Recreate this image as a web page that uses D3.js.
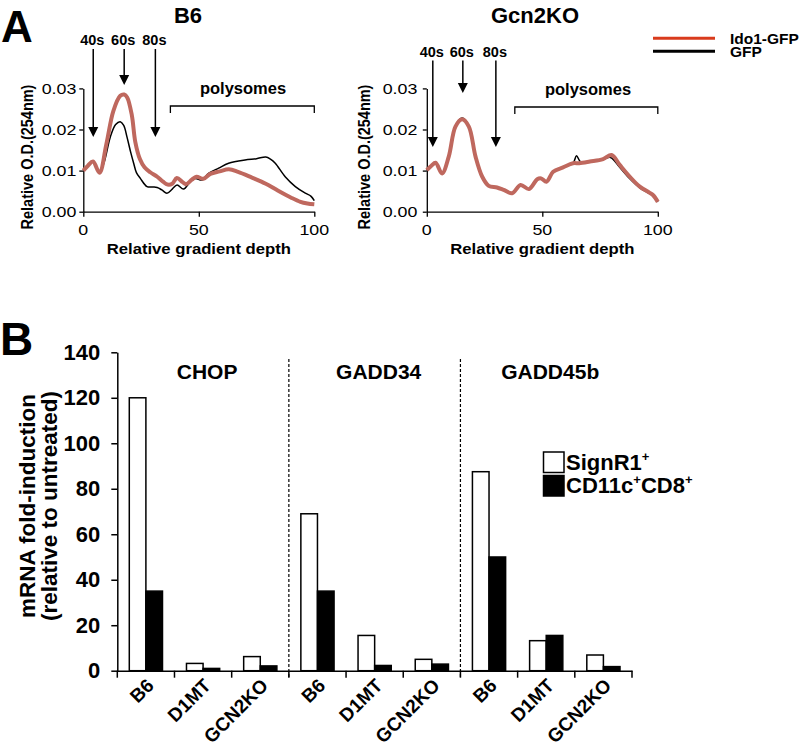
<!DOCTYPE html>
<html><head><meta charset="utf-8">
<script src="https://cdn.jsdelivr.net/npm/d3@7"></script>
<style>
html,body{margin:0;padding:0;background:#fff;}
svg text{font-family:"Liberation Sans",Arial,sans-serif;fill:#000;}
</style></head>
<body><svg id="c" width="812" height="752"></svg>
<script>
// ---------- Panel A data ----------
const b6GfpDepth = [0,2,4.2,7,9,11.7,14,16,17.5,18.9,20.5,21.8,23,24.7,27.6,30,32,34,36.2,38.5,40.6,43.4,46.3,48.5,51.4,54.2,58.6,62.9,70,75,79,81,83.1,87.4,91.8,96.1,98.5,100];
const b6GfpValue = [0.0100,0.0112,0.0124,0.0095,0.0120,0.0182,0.0212,0.0219,0.0210,0.0182,0.0145,0.0118,0.0095,0.0081,0.0061,0.0060,0.0059,0.0053,0.0045,0.0055,0.0065,0.0055,0.0073,0.0081,0.0077,0.0093,0.0106,0.0118,0.0126,0.0129,0.0133,0.0128,0.0118,0.0085,0.0061,0.0045,0.0038,0.0027];
const b6IdoDepth = [0,2,4.2,7,10,13,16,17.7,19,21,22.5,24.5,26.5,29,32,34.5,36.5,38.5,40.5,43,44.5,47,49,52,55,59,63,67,73,79,84,90,94,97,100];
const b6IdoValue = [0.0100,0.0112,0.0122,0.0095,0.0165,0.0245,0.0282,0.0285,0.0278,0.0235,0.0170,0.0128,0.0108,0.0096,0.0085,0.0073,0.0066,0.0068,0.0082,0.0072,0.0067,0.0078,0.0085,0.0080,0.0092,0.0098,0.0103,0.0097,0.0083,0.0068,0.0052,0.0034,0.0024,0.0020,0.0018];
const koGfpDepth = [0,2,3.8,6.6,9.5,12.4,15.3,18.2,21.1,24,26.8,30.4,33.3,36.9,40.6,44.2,47.8,49.5,51.8,54.7,59,63.3,64.8,66.5,70.6,76.3,79.5,83.5,87.9,92.2,96.5,98,100];
const koGfpValue = [0.0101,0.0112,0.0119,0.0093,0.0134,0.0209,0.0228,0.0209,0.0134,0.0085,0.0063,0.0059,0.0053,0.0045,0.0065,0.0055,0.0079,0.0081,0.0073,0.0097,0.0108,0.0118,0.0136,0.0122,0.0122,0.0127,0.0132,0.0108,0.0080,0.0058,0.0044,0.0039,0.0024];
const koIdoDepth = [0,2,3.8,6.6,9.5,12.4,15.3,18.2,21.1,24,26.8,30.4,33.3,36.9,40.6,44.2,47.8,49.5,51.8,54.7,59,63.3,66,70.6,76.3,80,83.5,87.9,92.2,96.5,98,100];
const koIdoValue = [0.0101,0.0112,0.0119,0.0093,0.0134,0.0207,0.0225,0.0207,0.0134,0.0085,0.0063,0.0059,0.0053,0.0045,0.0065,0.0055,0.0079,0.0081,0.0073,0.0097,0.0108,0.0118,0.0118,0.0122,0.0128,0.0138,0.0114,0.0085,0.0061,0.0046,0.0040,0.0024];
const odTicks = [0,0.01,0.02,0.03];
const depthTicks = [0,50,100];
const panelTitles = ["B6","Gcn2KO"];
const peakLabels = ["40s","60s","80s"];
const b6PeakDepth = [4.3,17.7,31.2];
const koPeakDepth = [2.6,15.6,29.9];
const legendA = ["Ido1-GFP","GFP"];

// ---------- Panel B data ----------
const genes = ["CHOP","GADD34","GADD45b"];
const mice = ["B6","D1MT","GCN2KO"];
const signR1 = [120,3.2,6.2, 69,15.5,5.0, 87.5,13.2,6.9];
const cd8 = [35,1.0,2.1, 35,2.3,2.9, 50,15.5,1.8];
const foldTicks = [0,20,40,60,80,100,120,140];

const svg = d3.select("#c");
const FONT = '"Liberation Sans",Arial,sans-serif';
const RED_CURVE = "#bf685e", RED_LEG = "#d93b1c";
const SX = 1.15; // horizontal stretch of the embedded profile plots' text

// ================= Panel A =================
svg.append("text").attr("x",1).attr("y",42).attr("font-size",44).attr("font-weight","bold").text("A");

function stretched(g, x, y, str, size, anchor, bold, rot){
  return g.append("text")
    .attr("transform",`translate(${x},${y}) scale(${SX},1)` + (rot ? ` rotate(${rot})` : ""))
    .attr("text-anchor",anchor).attr("font-size",size).attr("font-weight",bold?"bold":"normal").text(str);
}

function profile(cfg){
  const x = d3.scaleLinear().domain([0,100]).range([cfg.x0, cfg.x0+231]);
  const y = d3.scaleLinear().domain([0,0.03]).range([211.7, 88.4]);
  const g = svg.append("g");
  g.append("g").attr("transform",`translate(${cfg.x0},0)`)
    .call(d3.axisLeft(y).tickValues(odTicks).tickSize(4).tickSizeOuter(0).tickFormat(""));
  g.append("g").attr("transform",`translate(0,211.7)`)
    .call(d3.axisBottom(x).tickValues(depthTicks).tickSize(5).tickSizeOuter(0).tickFormat(""));
  g.selectAll(".domain,.tick line").attr("stroke","#000").attr("stroke-width",1.3);
  const fmt = d3.format(".2f");
  odTicks.forEach(t=>stretched(g, cfg.x0-cfg.tickOff, y(t)+5.5, fmt(t), 15.5, "end", false));
  depthTicks.forEach(t=>stretched(g, x(t), 235, String(t), 15.5, "middle", false));

  const line = d3.line().x(d=>x(d[0])).y(d=>y(d[1])).curve(d3.curveCatmullRom.alpha(0.5));
  g.append("path").datum(cfg.gD.map((d,i)=>[d,cfg.gV[i]])).attr("d",line)
    .attr("fill","none").attr("stroke","#000").attr("stroke-width",1.5);
  g.append("path").datum(cfg.rD.map((d,i)=>[d,cfg.rV[i]])).attr("d",line)
    .attr("fill","none").attr("stroke",RED_CURVE).attr("stroke-width",4).attr("stroke-linejoin","round");

  // title
  g.append("text").attr("x",cfg.titleX).attr("y",22.5).attr("text-anchor","middle")
    .attr("font-size",22).attr("font-weight","bold").text(cfg.title);
  // axis labels
  stretched(g, cfg.x0-cfg.ylabOff, 157, "Relative O.D.(254nm)", 14.5, "middle", true, -90);
  stretched(g, x(50), 254, "Relative gradient depth", 14.5, "middle", true);
  // peak arrows
  cfg.peaks.forEach((d,i)=>{
    const px = x(d);
    g.append("text").attr("x",px-1).attr("y",cfg.labY).attr("text-anchor","middle")
      .attr("font-size",14.5).attr("font-weight","bold").text(peakLabels[i]);
    const tip = cfg.tips[i];
    g.append("line").attr("x1",px).attr("x2",px).attr("y1",cfg.labY+4).attr("y2",tip-8)
      .attr("stroke","#000").attr("stroke-width",1.5);
    g.append("path").attr("d",`M${px-5},${tip-10}L${px+5},${tip-10}L${px},${tip}Z`).attr("fill","#000");
  });
  // polysome bracket
  const bx0 = x(cfg.polyStart), bx1 = x(100), by = cfg.polyY;
  g.append("path").attr("d",`M${bx0},${by+7}V${by}H${bx1}V${by+7}`).attr("fill","none")
    .attr("stroke","#000").attr("stroke-width",1.3);
  g.append("text").attr("x",cfg.polyLabX).attr("y",by-12).attr("text-anchor","middle")
    .attr("font-size",16.5).attr("font-weight","bold").text("polysomes");
}
profile({x0:83.3,title:panelTitles[0],titleX:188,gD:b6GfpDepth,gV:b6GfpValue,rD:b6IdoDepth,rV:b6IdoValue,
  peaks:b6PeakDepth,tips:[137,85,137],labY:45,polyStart:37.7,polyY:106,polyLabX:243,tickOff:7,ylabOff:50});
profile({x0:426.8,title:panelTitles[1],titleX:535,gD:koGfpDepth,gV:koGfpValue,rD:koIdoDepth,rV:koIdoValue,
  peaks:koPeakDepth,tips:[147,93,147],labY:56.5,polyStart:38.1,polyY:107,polyLabX:588,tickOff:9.5,ylabOff:57});

// legend A
[RED_LEG,"#000"].forEach((c,i)=>{
  const yy = 38.3 + i*13;
  svg.append("line").attr("x1",653).attr("x2",715).attr("y1",yy).attr("y2",yy).attr("stroke",c).attr("stroke-width",3);
  svg.append("text").attr("x",730).attr("y",yy+6).attr("font-size",15.5).attr("font-weight","bold").text(legendA[i]);
});

// ================= Panel B =================
svg.append("text").attr("x",0).attr("y",355).attr("font-size",46).attr("font-weight","bold").text("B");

const cats = [];
genes.forEach(g=>mice.forEach(m=>cats.push(g+"|"+m)));
const xB = d3.scaleBand().domain(cats).range([117.3,632]).paddingInner(0).paddingOuter(0);
const bw = xB.bandwidth();
const xSub = d3.scaleBand().domain(["s","c"]).range([bw/2-16.6, bw/2+16.6]);
const yB = d3.scaleLinear().domain([0,140]).range([670.7,352.3]);

const gB = svg.append("g");
// bars
const rows = cats.map((c,i)=>({c, s:signR1[i], k:cd8[i]}));
rows.forEach(r=>{
  gB.append("rect").attr("x",xB(r.c)+xSub("s")).attr("width",xSub.bandwidth()).attr("y",yB(r.s)).attr("height",yB(0)-yB(r.s))
    .attr("fill","#fff").attr("stroke","#000").attr("stroke-width",1.5);
  gB.append("rect").attr("x",xB(r.c)+xSub("c")).attr("width",xSub.bandwidth()).attr("y",yB(r.k)).attr("height",yB(0)-yB(r.k))
    .attr("fill","#000").attr("stroke","#000").attr("stroke-width",1.5);
});
// y axis
const yaB = gB.append("g").attr("transform","translate(117.3,0)")
  .call(d3.axisLeft(yB).tickValues(foldTicks).tickSize(6).tickSizeOuter(0));
yaB.selectAll("text").attr("font-size",22).attr("font-weight","bold").attr("font-family",FONT).attr("x",-17);
// x axis
const xaB = gB.append("g").attr("transform",`translate(0,${yB(0)})`)
  .call(d3.axisBottom(xB).tickSize(0).tickSizeOuter(0).tickFormat(d=>d.split("|")[1]));
xaB.selectAll("text").attr("font-size",19).attr("font-weight","bold").attr("font-family",FONT)
  .attr("text-anchor","end").attr("dy",0).attr("y",0)
  .attr("transform","translate(9,16) rotate(-45)");
gB.selectAll(".domain,.tick line").attr("stroke","#000").attr("stroke-width",1.5);
// boundary ticks
d3.range(cats.length+1).forEach(i=>{
  const bxp = 117.3 + i*xB.step();
  gB.append("line").attr("x1",bxp).attr("x2",bxp).attr("y1",yB(0)).attr("y2",yB(0)+7).attr("stroke","#000").attr("stroke-width",1.5);
});
// dashed separators
[3,6].forEach(i=>{
  const bxp = 117.3 + i*xB.step();
  gB.append("line").attr("x1",bxp).attr("x2",bxp).attr("y1",359).attr("y2",yB(0)+7)
    .attr("stroke","#000").attr("stroke-width",1.2).attr("stroke-dasharray","3,2");
});
// gene labels
genes.forEach((g,i)=>{
  const cx = 117.3 + (i*3+1.5)*xB.step() + 4;
  gB.append("text").attr("x",cx).attr("y",379).attr("text-anchor","middle")
    .attr("font-size",21).attr("font-weight","bold").text(g);
});
// y label
const yl = gB.append("text").attr("transform","translate(0,506) rotate(-90)").attr("text-anchor","middle")
  .attr("font-size",22.5).attr("font-weight","bold");
yl.append("tspan").attr("x",0).attr("y",35).text("mRNA fold-induction");
yl.append("tspan").attr("x",0).attr("y",57).text("(relative to untreated)");
// legend B
gB.append("rect").attr("x",543.5).attr("y",452).attr("width",20.5).attr("height",20.5).attr("fill","#fff").attr("stroke","#000").attr("stroke-width",1.5);
gB.append("rect").attr("x",543.5).attr("y",475.5).attr("width",20.5).attr("height",20.5).attr("fill","#000").attr("stroke","#000").attr("stroke-width",1.5);
const t1 = gB.append("text").attr("x",566).attr("y",470).attr("font-size",22).attr("font-weight","bold");
t1.append("tspan").text("SignR1");
t1.append("tspan").attr("dy",-9).attr("font-size",13).text("+");
const t2 = gB.append("text").attr("x",566).attr("y",493).attr("font-size",22).attr("font-weight","bold");
t2.append("tspan").text("CD11c");
t2.append("tspan").attr("dy",-9).attr("font-size",13).text("+");
t2.append("tspan").attr("dy",9).text("CD8");
t2.append("tspan").attr("dy",-9).attr("font-size",13).text("+");
</script></body></html>
